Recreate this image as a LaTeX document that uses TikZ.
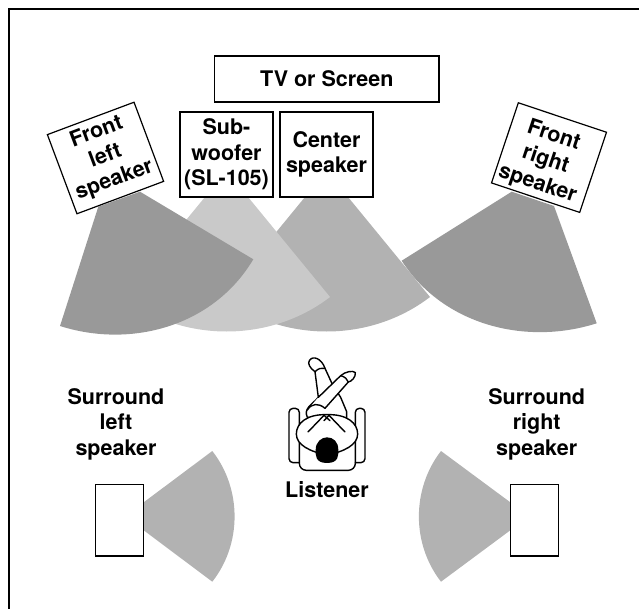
\documentclass[tikz,border=0pt]{standalone}
\usepackage{fontspec}
\setmainfont{TeX Gyre Heros}
\tikzset{
    labeltext/.style={font=\fontsize{21.5}{25.5}\selectfont\bfseries, align=center, inner sep=0pt},
    speakerbox/.style={draw, fill=white, line width=1.2pt, labeltext},
    frontcone/.style={fill=black!40},
    subcone/.style={fill=black!21},
    sidecone/.style={fill=black!30},
    person/.style={line width=1.4pt, line join=round, line cap=round}
}
\begin{document}
\begin{tikzpicture}[x=1pt,y=-1pt]
    \useasboundingbox (0,0) rectangle (639,609);

    % frame
    \coordinate (frameleft) at (9,609);
    \coordinate (framecorner) at (9,9);
    \coordinate (frameright) at (639,9);
    \draw[line width=1.5pt] (frameleft) -- (framecorner) -- (frameright);

    % sound cones
    \fill[sidecone] (305,197) -- (223,297) .. controls (283,343) and (370,343) .. (430,297) -- (348,197) -- cycle;
    \fill[subcone] (205,197) -- (123,297) .. controls (183,343) and (270,343) .. (330,297) -- (248,197) -- cycle;
    \fill[frontcone] (511.7,191.7) -- (401.7,260.7) .. controls (443,325) and (525.7,346) .. (596.7,323.3) -- (554,206) -- cycle;
    \fill[frontcone] (98.3,206.7) -- (60,326) .. controls (131,348.7) and (213.3,326.5) .. (253.3,259.3) -- (140,191.7) -- cycle;
    \fill[sidecone] (143.7,502.3) -- (212.3,451) .. controls (242,489) and (242,544) .. (212.3,581.7) -- (143.7,530.3) -- cycle;
    \fill[sidecone] (510.3,502.3) -- (441,451) .. controls (411.5,489) and (411.5,544) .. (441,581.7) -- (510.3,530.3) -- cycle;

    % boxes
    \node[speakerbox, minimum width=224.5pt, minimum height=46pt] (screen) at (326.8,79) {TV or Screen};
    \node[speakerbox, minimum width=93pt, minimum height=85pt] (subwoofer) at (226.5,154.5) {Sub-\\woofer\\(SL-105)};
    \node[speakerbox, minimum width=93pt, minimum height=85pt] (center) at (326.5,154.5) {Center\\speaker};
    \node[speakerbox, rotate=20.5, minimum width=92.5pt, minimum height=84.5pt] (frontleft) at (105.5,158) {};
    \node[speakerbox, rotate=-18.5, minimum width=93pt, minimum height=84.5pt] (frontright) at (549,157.6) {};
    \node[speakerbox, minimum width=48pt, minimum height=71.5pt] (surroundleft) at (119.7,520.3) {};
    \node[speakerbox, minimum width=48pt, minimum height=71.5pt] (surroundright) at (534.3,520.3) {};

    % labels
    \node[labeltext, rotate=20.5] (frontlefttext) at (105.5,156.5) {Front\\left\\speaker};
    \node[labeltext, rotate=-18.5] (frontrighttext) at (545.5,160) {Front\\right\\speaker};
    \node[labeltext] (surroundlefttext) at (116,424) {Surround\\left\\speaker};
    \node[labeltext] (surroundrighttext) at (536.7,424) {Surround\\right\\speaker};
    \node[labeltext] (listener) at (327,490) {Listener};

    % listener, traced at 3x
    \begin{scope}[shift={(250,340)},x=0.3333pt,y=-0.3333pt,person]
        \draw[rounded corners=4pt] (148,368) -- (117,368) -- (117,205) -- (148,205) -- (148,300);
        \draw[rounded corners=4pt] (316,368) -- (345,368) -- (345,205) -- (316,205) -- (316,300);
        \draw[rounded corners=7pt] (148,300) -- (148,391) -- (316,391) -- (316,300);
        % legs
        \draw[fill=white] (172,232) .. controls (160,205) and (185,195) .. (205,172) -- (195,95) .. controls (180,85) and (172,70) .. (178,62) .. controls (188,45) and (215,55) .. (225,85) -- (248,135) -- (272,172) -- (290,215) -- (290,240) -- cycle;
        \draw (195,95) .. controls (205,85) and (215,83) .. (225,85);
        \draw[fill=white] (205,172) -- (272,107) .. controls (285,95) and (310,90) .. (316,98) .. controls (318,110) and (305,125) .. (295,126) -- (225,205) .. controls (205,188) and (185,190) .. (172,210);
        \draw (272,107) .. controls (285,110) and (292,118) .. (295,126);
        % body
        \draw[fill=white] (231,224) .. controls (170,222) and (139,250) .. (139,282) .. controls (139,315) and (180,335) .. (231,345) .. controls (282,335) and (323,315) .. (323,282) .. controls (323,250) and (292,222) .. (231,224) -- cycle;
        \draw (174,276) -- (222,226) -- (240,242);
        \draw (285,276) -- (237,226) -- (222,242);
        % head
        \fill (231,369) .. controls (195,369) and (197,345) .. (197,330) .. controls (197,305) and (215,292) .. (231,292) .. controls (250,292) and (265,305) .. (265,330) .. controls (265,345) and (267,369) .. (231,369) -- cycle;
    \end{scope}
\end{tikzpicture}
\end{document}
